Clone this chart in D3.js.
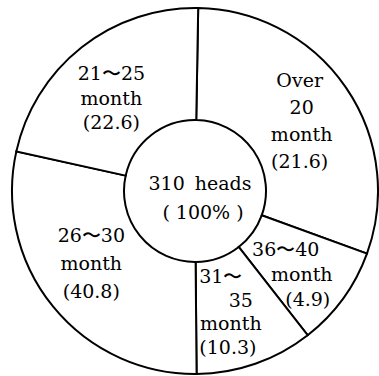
<!DOCTYPE html>
<html>
<head>
<meta charset="utf-8">
<script src="https://cdn.jsdelivr.net/npm/d3@7"></script>
<style>
	body { margin: 0; background: #fff; }
	svg { display: block; }
	.slice { fill: #fff; stroke: #000; stroke-width: 2; }
</style>
</head>
<body>
<div id="chart"></div>
<script>
// Age at slaughter, 310 heads
///

const categories = ["Over 20 month", "36\u301c40 month", "31\u301c35 month", "26\u301c30 month", "21\u301c25 month"];
const percents = [21.6, 4.9, 10.3, 40.8, 22.6];
// the original figure is not drawn to scale, so the slice widths are read off the drawing (degrees)
const drawnDeg = [109, 32, 37.5, 103, 78.5];
const labelLines = [
	["Over", "20", "month"],
	["36\u301c40", "month"],
	["31\u301c", "35", "month"],
	["26\u301c30", "month"],
	["21\u301c25", "month"]
];
const totalHeads = 310;
const totalPct = "100%";

const w = 379, h = 376;
const cx = 195, cy = 191, rOuter = 183, rInner = 71;
const serif = "'DejaVu Serif', serif";

// label nudges from the arc centroid, line gap and per line x shift
const nudge = [[0, 2], [0, 9], [-4, 1], [-5, -8], [-5, 7]];
const lineGap = [27, 25, 23.7, 28, 24.5];
const lineDx = [[0, 2, 2, 0], [-12, 4, 10], [-12, 8, -2, -5], [0, 0, 0], [0, 0, 0]];

let svg = d3.select("#chart").append("svg")
	.attr("width", w)
	.attr("height", h)
	.style("font-family", serif)
	.style("font-size", "19px");

let g = svg.append("g").attr("transform", "translate(" + cx + "," + cy + ")");

const rad = d3.scaleLinear().domain([0, 360]).range([0, 2 * Math.PI]);

const pie = d3.pie()
	.value(function(d) { return d.deg })
	.sort(null)
	.startAngle(rad(1))
	.endAngle(rad(361));

const data = categories.map(function(c, i) {
	return { name: c, pct: percents[i], deg: drawnDeg[i], lines: labelLines[i].concat(["(" + percents[i].toFixed(1) + ")"]) }
});

const arc = d3.arc().innerRadius(rInner).outerRadius(rOuter);
const labelArc = d3.arc().innerRadius(127).outerRadius(127);

let arcs = pie(data);

g.selectAll("path.slice")
	.data(arcs)
	.enter()
	.append("path")
	.attr("class", "slice")
	.attr("d", arc);

// slice labels
arcs.forEach(function(a, i) {
	let c = labelArc.centroid(a);
	let x = c[0] + nudge[i][0], y = c[1] + nudge[i][1];
	let n = a.data.lines.length;
	let t = g.append("text").attr("text-anchor", "middle");
	a.data.lines.forEach(function(line, j) {
		t.append("tspan")
			.attr("x", x + lineDx[i][j])
			.attr("y", y + (j - (n - 1) / 2) * lineGap[i])
			.attr("dy", "0.35em")
			.text(line);
	});
});

// centre
g.append("text")
	.attr("text-anchor", "middle")
	.attr("x", 5).attr("y", -8).attr("dy", "0.35em")
	.attr("word-spacing", 4)
	.text(totalHeads + " heads");

g.append("text")
	.attr("text-anchor", "middle")
	.attr("x", 8).attr("y", 21).attr("dy", "0.35em")
	.text("( " + totalPct + " )");
</script>
</body>
</html>
